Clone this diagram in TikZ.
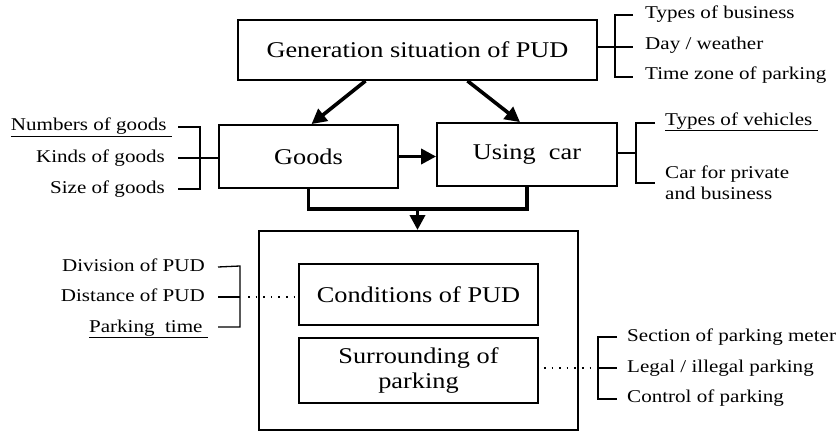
\documentclass[tikz,border=0pt]{standalone}
\usepackage{fontspec}
\setmainfont[FakeStretch=1.17]{Liberation Serif}
\usetikzlibrary{arrows.meta}
\tikzset{
  box/.style={draw, line width=1.8pt, inner sep=0pt, font=\fontsize{22.5}{26}\selectfont, align=center},
  lab/.style={inner sep=0pt, font=\fontsize{18}{20}\selectfont, text height=12pt, text depth=4pt},
  mlab/.style={inner sep=0pt, font=\fontsize{18}{21.5}\selectfont, align=left},
  brk/.style={line width=1.3pt},
  fat/.style={line width=3.6pt, -{Triangle[length=15pt,width=15pt]}},
  dots/.style={line width=1.6pt, dash pattern=on 1.6pt off 6pt},
}
\begin{document}
\begin{tikzpicture}[x=1pt,y=-1pt]
\useasboundingbox (0,0) rectangle (840,433);
% main boxes
\node[box, minimum width=359pt, minimum height=60pt] (top) at (417.5,50) {Generation situation of PUD};
\node[box, minimum width=179pt, minimum height=63pt] (goods) at (308.5,156.5) {Goods};
\node[box, minimum width=180pt, minimum height=63pt] (using) at (527,154.5) {Using\ \ car};
\node[draw, line width=2pt, minimum width=319pt, minimum height=199pt] (big) at (418.5,330.5) {};
\node[box, minimum width=239pt, minimum height=61pt] (cond) at (418.5,294.5) {Conditions of PUD};
\node[box, minimum width=239pt, minimum height=65pt] (surr) at (418.5,370.5) {Surrounding of\\[-1pt]parking};
% arrows
\draw[fat] ([xshift=-52pt]top.south) -- ([xshift=3pt]goods.north);
\draw[fat] ([xshift=50pt]top.south) -- ([xshift=-7pt]using.north);
\draw[fat] (goods.east) -- (goods.east -| using.west);
\coordinate (mid) at (417.5,209);
\draw[line width=3.6pt] (goods.south) |- (mid) -| (using.south);
\draw[fat] (mid) -- (big.north -| mid);
% top right bracket
\node[lab, anchor=west] (t1) at (645,15) {Types of business};
\node[lab, anchor=west] (t2) at (645,46) {Day / weather};
\node[lab, anchor=west] (t3) at (645,76) {Time zone of parking};
\coordinate (tb1) at (615,15); \coordinate (tb2) at (615,47); \coordinate (tb3) at (615,77);
\draw[brk] (top.east |- tb2) -- (tb2);
\draw[brk] ([xshift=-12pt]t1.west) -- (tb1) -- (tb3) -- ([xshift=-12pt]t3.west |- tb3);
\draw[brk] (tb2) -- ([xshift=-12pt]t2.west |- tb2);
% goods bracket
\node[lab, anchor=east] (g1) at (172,127) {\underline{Numbers of goods\ }};
\node[lab, anchor=east] (g2) at (165,158) {Kinds of goods};
\node[lab, anchor=east] (g3) at (165,189) {Size of goods};
\coordinate (gb1) at (200,127); \coordinate (gb2) at (200,158); \coordinate (gb3) at (200,189);
\draw[brk] ([xshift=13pt]g2.east |- gb1) -- (gb1) -- (gb3) -- ([xshift=13pt]g3.east |- gb3);
\draw[brk] ([xshift=13pt]g2.east) -- (gb2) -- (goods.west |- gb2);
% using car bracket
\node[lab, anchor=west] (u1) at (665,121) {\underline{Types of vehicles\ }};
\node[mlab, anchor=north west] (u2) at (665,165.5) {Car for private\\and business};
\coordinate (ub1) at (636,123); \coordinate (ub2) at (636,153); \coordinate (ub3) at (636,183);
\draw[brk] (using.east |- ub2) -- (ub2);
\draw[brk] ([xshift=-10pt]u1.west |- ub1) -- (ub1) -- (ub3) -- ([xshift=-10pt]u2.west |- ub3);
% conditions bracket
\node[lab, anchor=east] (c1) at (205,267) {Division of PUD};
\node[lab, anchor=east] (c2) at (205,297) {Distance of PUD};
\node[lab, anchor=east] (c3) at (208,328) {\underline{Parking\ \ time\ }};
\coordinate (cb1) at (240,266); \coordinate (cb2) at (240,297); \coordinate (cb3) at (240,327);
\draw[brk] ([xshift=13pt]c1.east) -- (cb1) -- (cb3) -- ([xshift=13pt]c1.east |- cb3);
\draw[brk] ([xshift=13pt]c2.east) -- (cb2);
\draw[dots] ([xshift=8pt]cb2) -- (cond.west |- cb2);
% surrounding bracket
\node[lab, anchor=west] (s1) at (627,337) {Section of parking meter};
\node[lab, anchor=west] (s2) at (627,368) {Legal / illegal parking};
\node[lab, anchor=west] (s3) at (627,398) {Control of parking};
\coordinate (sb1) at (598,337); \coordinate (sb2) at (598,368); \coordinate (sb3) at (598,399);
\draw[dots] ([xshift=5pt]surr.east |- sb2) -- (sb2);
\draw[brk] ([xshift=-10pt]s1.west) -- (sb1) -- (sb3) -- ([xshift=-10pt]s3.west |- sb3);
\draw[brk] (sb2) -- ([xshift=-10pt]s2.west);
\end{tikzpicture}
\end{document}
